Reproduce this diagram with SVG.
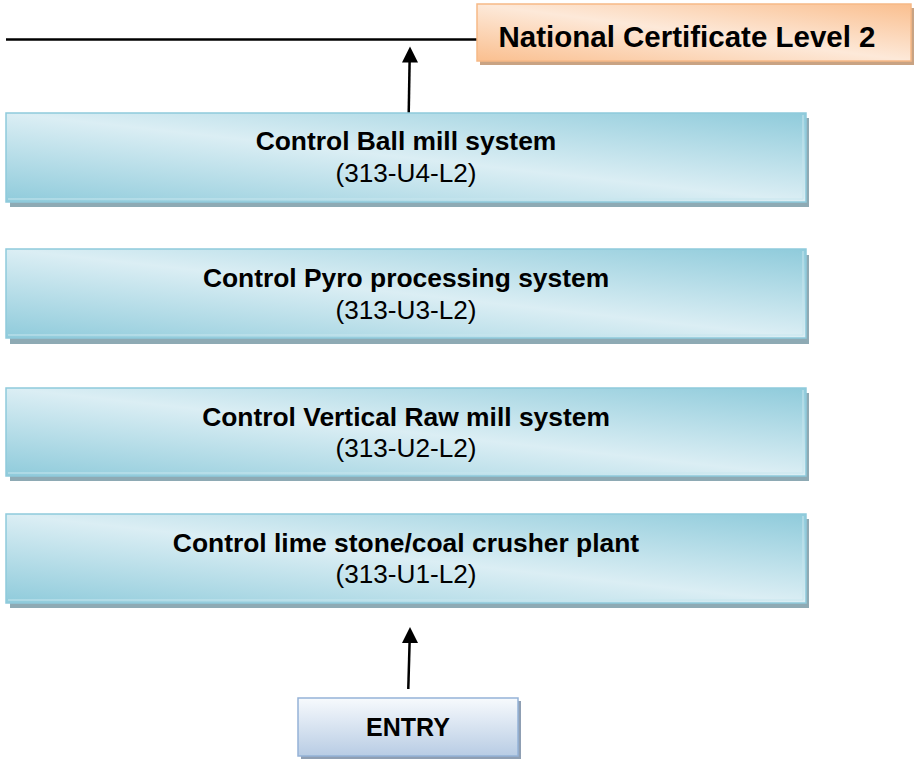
<svg xmlns="http://www.w3.org/2000/svg" width="917" height="759" viewBox="0 0 917 759">
<style>
text{font-family:"Liberation Sans",Arial,sans-serif;fill:#000;text-anchor:middle}
.t{font-weight:bold;font-size:26.4px}
.s{font-size:26.2px}
.blue{fill:url(#gBlue);stroke:#8fcadb;stroke-width:1.5}
.bshadow{fill:#8eaab4}
.bevel{fill:none;stroke:#c8e6ee;stroke-width:1}
.conn{stroke:#000;stroke-width:2.5;fill:none}
</style>
<defs>
<linearGradient id="gBlue" x1="0" y1="1" x2="1" y2="0">
<stop offset="0" stop-color="#8fcbdb"/>
<stop offset="0.5" stop-color="#dbeef4"/>
<stop offset="1" stop-color="#8fcbdb"/>
</linearGradient>
<linearGradient id="gOrange" x1="0" y1="1" x2="1" y2="0">
<stop offset="0" stop-color="#fabf8f"/>
<stop offset="0.5" stop-color="#fde9d9"/>
<stop offset="1" stop-color="#fabf8f"/>
</linearGradient>
<linearGradient id="gEntry" x1="0" y1="0" x2="0" y2="1">
<stop offset="0" stop-color="#f7fafd"/>
<stop offset="1" stop-color="#b8cce4"/>
</linearGradient>
</defs>

<g id="connectors">
<line class="conn" x1="6" y1="39.5" x2="477" y2="39.5"/>
<line class="conn" x1="408.7" y1="114" x2="409.6" y2="62"/>
<path d="M402,62.5 L410,46.5 L418,62.5 Z" fill="#000"/>
<line class="conn" x1="408.3" y1="689" x2="409.6" y2="642"/>
<path d="M402,643 L410,627 L418,643 Z" fill="#000"/>
</g>

<g id="nc-level2">
<rect x="480" y="8" width="434" height="57" fill="#c9a383"/>
<rect x="477" y="4" width="434" height="57" fill="url(#gOrange)" stroke="#f6b987" stroke-width="1.5"/>
<text class="t" x="687" y="47" style="font-size:29.5px">National Certificate Level 2</text>
</g>

<g id="u4">
<rect class="bshadow" x="10" y="118" width="799" height="89"/>
<rect class="blue" x="6" y="113" width="800" height="89"/>
<polyline class="bevel" points="803,115 803,199 8,199"/>
<text class="t" x="406" y="150">Control Ball mill system</text>
<text class="s" x="406" y="182">(313-U4-L2)</text>
</g>

<g id="u3">
<rect class="bshadow" x="10" y="255" width="799" height="89"/>
<rect class="blue" x="6" y="249" width="800" height="89"/>
<polyline class="bevel" points="803,251 803,335 8,335"/>
<text class="t" x="406" y="287">Control Pyro processing system</text>
<text class="s" x="406" y="319">(313-U3-L2)</text>
</g>

<g id="u2">
<rect class="bshadow" x="10" y="393" width="799" height="88"/>
<rect class="blue" x="6" y="388" width="800" height="88"/>
<polyline class="bevel" points="803,390 803,473 8,473"/>
<text class="t" x="406" y="426">Control Vertical Raw mill system</text>
<text class="s" x="406" y="457">(313-U2-L2)</text>
</g>

<g id="u1">
<rect class="bshadow" x="10" y="519" width="799" height="89"/>
<rect class="blue" x="6" y="514" width="800" height="89"/>
<polyline class="bevel" points="803,516 803,600 8,600"/>
<text class="t" x="406" y="552">Control lime stone/coal crusher plant</text>
<text class="s" x="406" y="583">(313-U1-L2)</text>
</g>

<g id="entry">
<rect x="301" y="701" width="220" height="58" fill="#8f9fb3"/>
<rect x="298" y="698" width="220" height="58" fill="url(#gEntry)" stroke="#95b3d7" stroke-width="1.5"/>
<text class="t" x="408" y="736" style="font-size:25px">ENTRY</text>
</g>
</svg>
